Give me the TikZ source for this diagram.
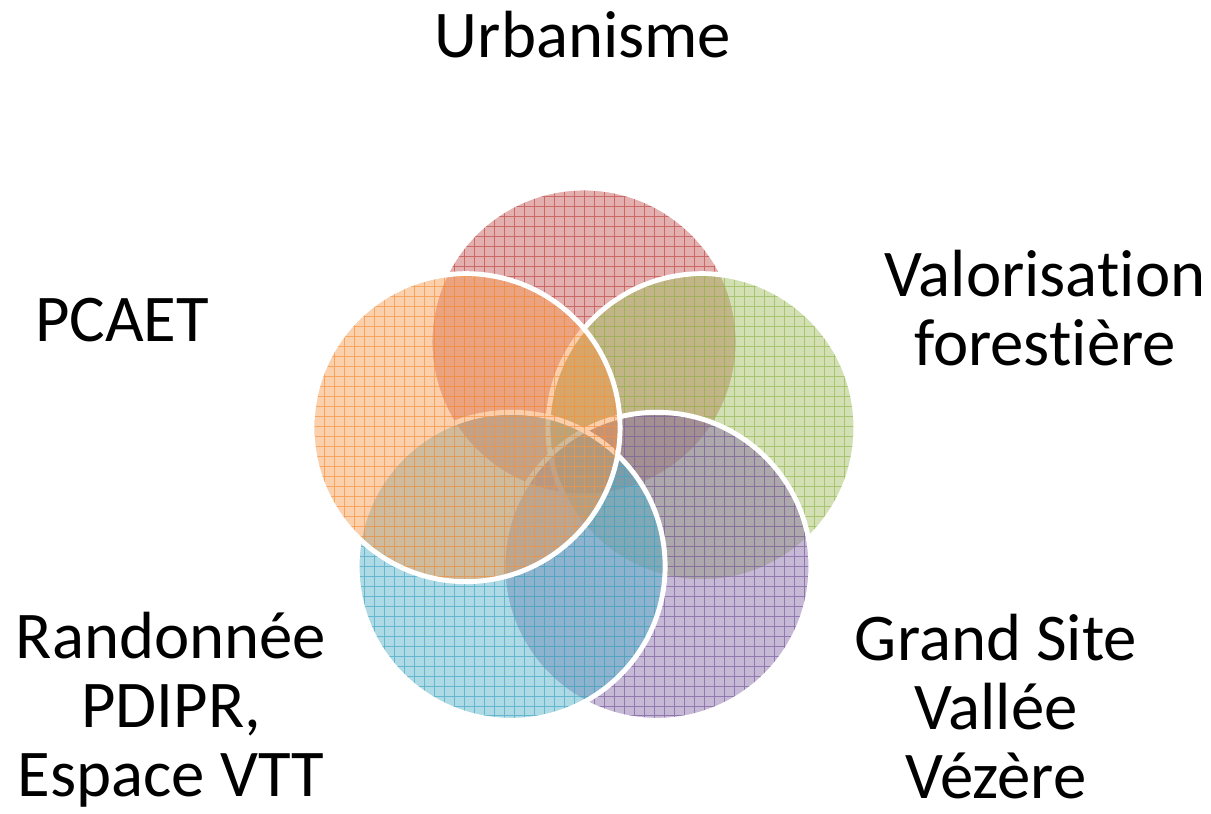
\documentclass[tikz,border=0pt]{standalone}
\usepackage{fontspec}
\setmainfont{Carlito}[Ligatures={NoCommon,NoContextual}]
\usepackage{xcolor}
\usepackage{tikz}

\definecolor{urbred}{HTML}{C0504D}
\definecolor{forgreen}{HTML}{9BBB59}
\definecolor{gsviolet}{HTML}{8064A2}
\definecolor{randoblue}{HTML}{4BACC6}
\definecolor{pcaetorange}{HTML}{F79646}

\begin{document}
\begin{tikzpicture}[x=0.02cm, y=0.02cm,
  lbltext/.style={font=\fontsize{38}{39.4}\selectfont, align=center, inner sep=0pt, anchor=base},
  ring/.style={draw=white, line width=2.8pt}]
\useasboundingbox (0,0) rectangle (1211,814);

% five overlapping circles, bottom one first
\begin{scope}[shift={(584,348)}]
\foreach \ang/\col in {90/urbred, 18/forgreen, 306/gsviolet, 234/randoblue, 162/pcaetorange}{
  \coordinate (c) at (\ang:124);
  \fill[\col, fill opacity=0.45] (c) circle[radius=154];
  \begin{scope}
    \clip (c) circle[radius=154];
    \draw[\col, line width=0.5pt, opacity=0.75, step=0.2cm] (c) ++(-160,-160) grid ++(320,320);
  \end{scope}
  \draw[ring] (c) circle[radius=154];
}
\end{scope}

% labels (base = last line)
\node[lbltext] (urb) at (583,756) {Urbanisme};
\node[lbltext] (pcaet) at (122,472) {PCAET};
\node[lbltext] (valo) at (1045,448) {Valorisation\\forestière};
\node[lbltext] (gsite) at (996,15) {Grand Site\\Vallée\\Vézère};
\node[lbltext] (rando) at (171,17) {Randonnée\\PDIPR,\\Espace VTT};
\end{tikzpicture}
\end{document}
